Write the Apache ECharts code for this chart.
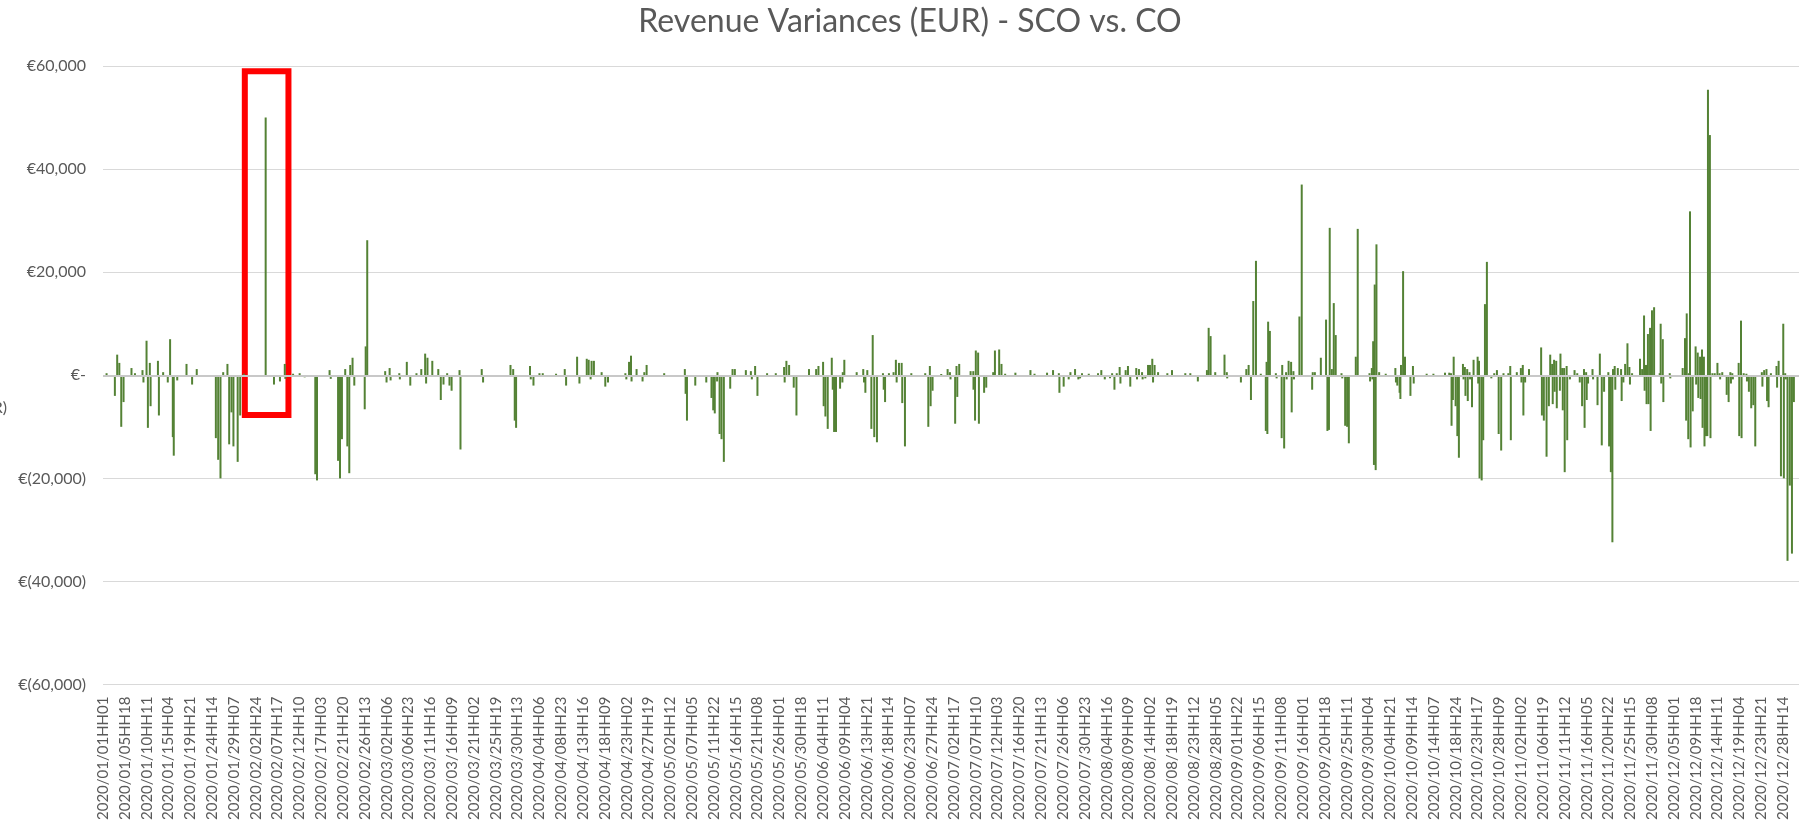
<!DOCTYPE html>
<html>
<head>
<meta charset="utf-8">
<title>Revenue Variances (EUR) - SCO vs. CO</title>
<script src="https://cdn.jsdelivr.net/npm/echarts@6/dist/echarts.min.js"></script>
<style>
    html, body { margin: 0; padding: 0; background: #fff; }
    #chartDiv { width: 1804px; height: 823px; }
</style>
</head>
<body>
<div id="chartDiv"></div>

<script>
    // hourly variances, [hour index from 2020/01/01HH01, EUR]
    var varQ1 = [[18,400],[61,-4000],[73,4000],[84,2400],[94,-10000],[106,-5200],[147,1400],[165,400],[204,1000],[209,-1400],
        [225,6700],[232,-10200],[242,2400],[246,-6000],[284,2800],[289,-7800],[311,600],[335,-1400],[347,7000],[361,-12000],
        [366,-15600],[384,-1000],[432,2200],[461,-1800],[485,1200],[584,-12200],[596,-16400],[608,-20000],[622,600],[644,2200],
        [653,-13400],[665,-7200],[675,-13800],[697,-16800],[710,-7800],[729,300],[842,50000],[885,-1800],[916,-1200],[941,2200],
        [944,-700],[984,300],[1018,400],[1044,-400],[1099,-19200],[1108,-20400],[1173,1000],[1179,-700],[1217,-16600],[1227,-20000],
        [1237,-12400],[1254,1200],[1265,-13800],[1275,-19000],[1280,2000],[1292,3400],[1301,-2000],[1355,-6600],[1360,5600],[1368,26200],
        [1461,800],[1468,-1400],[1484,1400],[1489,-1000],[1534,400],[1537,-800],[1573,2600],[1591,-2000],[1623,400],[1648,1200],
        [1668,4200],[1673,-1600],[1680,3400],[1705,2800],[1736,1200],[1749,-4800],[1763,-1800],[1782,400],[1794,-2000],[1805,-3000],
        [1846,1000],[1851,-14400],[1961,1200],[1968,-1400],[2110,2000],[2124,1200],[2132,-8800],[2139,-10200]];

    var varQ2 = [[2211,1800],[2215,-800],[2229,-2000],[2260,400],[2277,400],[2346,300],[2391,1200],[2398,-2000],[2455,3600],[2467,-1600],
        [2505,3200],[2515,3000],[2525,-800],[2530,2800],[2542,2800],[2582,600],[2601,-2200],[2615,-1400],[2705,400],[2710,-800],
        [2724,2600],[2734,3800],[2737,-1200],[2763,1200],[2794,-1200],[2803,600],[2815,2000],[2906,400],[3013,1200],[3017,-3600],
        [3024,-8800],[3067,-2000],[3124,-1400],[3151,-4400],[3160,-6800],[3168,-7400],[3180,-1200],[3182,600],[3193,-11400],[3203,-12400],
        [3215,-16800],[3248,-2600],[3260,1200],[3272,1200],[3329,1000],[3355,800],[3360,-800],[3377,1800],[3389,-4000],[3439,400],
        [3484,400],[3527,1600],[3530,-1400],[3539,2800],[3553,2000],[3577,-2400],[3591,-7800],[3656,1200],[3693,1200],[3705,1800],
        [3729,2600],[3732,-6000],[3741,-8000],[3753,-10400],[3774,3400],[3779,-2800],[3786,-11000],[3796,-11000],[3817,-2600],[3829,-1400],
        [3831,600],[3839,3000],[3903,600],[3937,1200],[3941,-1400],[3948,-3400],[3958,1000],[3979,-10400],[3986,7800],[3994,-12000],
        [4008,-13000],[4039,400],[4043,-2800],[4050,-5200],[4070,400],[4094,600],[4106,3000],[4110,-1400],[4122,2400],[4136,2400],
        [4139,-5400],[4153,-13800],[4186,400],[4258,400],[4274,-10000],[4282,1800],[4286,-6000],[4296,-3000],[4341,250]];

    var varQ3 = [[4374,1200],[4386,600],[4389,-800],[4413,-9400],[4420,1800],[4424,-4200],[4434,2200],[4493,800],[4507,800],[4508,-2800],
        [4516,-8800],[4520,4800],[4532,4400],[4536,-9400],[4563,-3400],[4574,-2400],[4610,600],[4619,4800],[4641,5000],[4653,2200],
        [4672,300],[4725,500],[4803,1000],[4824,300],[4889,500],[4920,1000],[4950,400],[4953,-3400],[4975,-2200],[5001,-800],
        [5010,600],[5034,1200],[5051,-800],[5060,-600],[5070,400],[5105,300],[5153,400],[5170,1000],[5188,-800],[5215,-600],
        [5226,400],[5238,-2800],[5250,400],[5265,1600],[5269,-1600],[5296,1000],[5308,1800],[5320,-2200],[5351,1400],[5355,-800],
        [5365,1200],[5381,600],[5384,-800],[5398,-600],[5412,2000],[5422,2000],[5434,3200],[5438,-1400],[5446,2000],[5464,600],
        [5512,400],[5536,1000],[5605,400],[5631,400],[5670,-1200],[5717,1000],[5726,9200],[5736,7600],[5760,600],[5808,4000],
        [5820,600],[5822,-600],[5893,-1400],[5921,1200],[5933,2000],[5945,-4800],[5957,14400],[5971,22200],[5996,300],[6022,-10800],
        [6026,2600],[6030,-11400],[6034,10400],[6043,8600],[6074,400],[6078,-600],[6104,-12200],[6107,2000],[6117,-14200],[6127,600],
        [6130,-800],[6140,2800],[6153,2600],[6156,-7200],[6165,800],[6168,-800],[6196,11400],[6208,37000],[6262,-2800],[6265,600],
        [6276,600],[6307,3400],[6334,10800],[6341,-10800],[6349,-10600],[6353,28600],[6364,1200],[6374,14000],[6384,7800],[6414,400],
        [6418,-600],[6433,-9800],[6443,-10000],[6452,-13200],[6488,3600],[6498,28400],[6559,400],[6562,-1200],[6571,1400],[6574,-800]];

    var varQ4 = [[6578,6600],[6582,-17400],[6586,17600],[6591,-18400],[6595,25400],[6609,600],[6643,300],[6693,1400],[6696,-1400],[6703,-2000],
        [6715,-3400],[6719,-4600],[6722,2000],[6733,20200],[6743,3600],[6771,-4000],[6784,1800],[6788,-1600],[6855,300],[6890,300],
        [6950,500],[6972,500],[6981,400],[6984,-9800],[6991,-4800],[6995,3600],[7005,-6000],[7014,-11800],[7022,-16000],[7043,2200],
        [7046,-800],[7053,1600],[7056,-4000],[7065,1200],[7068,-5000],[7077,600],[7080,-800],[7090,-6200],[7098,3000],[7119,3600],
        [7122,-1600],[7126,2800],[7129,-20000],[7140,-20400],[7148,-12600],[7157,13800],[7167,22000],[7190,-600],[7205,400],[7219,1000],
        [7228,-11400],[7241,-14600],[7253,400],[7278,400],[7288,1800],[7291,-12600],[7322,600],[7343,1400],[7346,-1400],[7353,2000],
        [7356,-7800],[7365,-1400],[7385,1200],[7448,5400],[7452,-7800],[7462,-8800],[7476,-15800],[7488,-6000],[7495,4000],[7505,2200],
        [7508,-5600],[7515,3000],[7518,-3200],[7526,2800],[7529,-6400],[7545,-3000],[7548,4200],[7557,1400],[7560,-6800],[7567,1400],
        [7570,-18800],[7580,1800],[7583,-12600],[7597,-800],[7621,1000],[7635,400],[7648,-1400],[7660,-6000],[7670,1200],[7673,-10200],
        [7681,600],[7684,-4800],[7691,-1600],[7714,1200],[7717,-800],[7740,-5800],[7752,4200],[7762,-13600],[7774,-3200],[7796,600],
        [7800,-13800],[7809,-18800],[7817,-32400],[7820,1200],[7829,1800],[7832,-2800],[7845,1400],[7862,1200],[7865,-5000],[7874,-1400],
        [7883,2200],[7895,6200],[7905,1600],[7908,-1800],[7919,400],[7960,3200],[7971,1200],[7981,11600],[7984,-3000],[7991,2000],
        [7994,-5600],[8001,8000],[8004,-5600],[8012,9200],[8015,-10800],[8022,12600],[8033,13200],[8062,400],[8067,10000],[8070,-1600],
        [8078,7000],[8081,-5200],[8114,400],[8117,-600],[8181,1400],[8193,7200],[8199,-8800],[8202,12000],[8210,-12400],[8212,400],
        [8219,31800],[8222,-14000],[8233,-7000],[8248,5600],[8251,-1800],[8259,4400],[8262,-4400],[8271,3600],[8274,-4600],[8281,5000],
        [8284,-10200],[8291,3600],[8294,-13800],[8302,-11800],[8309,-11800],[8312,55400],[8322,46600],[8325,-12200],[8335,400],[8347,400],
        [8361,2400],[8372,400],[8375,-800],[8386,600],[8409,-3800],[8419,-5200],[8428,600],[8431,-1600],[8438,400],[8441,-800],
        [8471,2400],[8474,-11800],[8483,10600],[8486,-12200],[8497,400],[8511,300],[8514,-1200],[8524,-3200],[8536,-6400],[8547,-5800],
        [8557,-13800],[8591,600],[8594,-2200],[8603,1000],[8615,1200],[8618,-5000],[8626,-6200],[8638,400],[8667,1800],[8670,-2400],
        [8678,2800],[8690,-19600],[8702,10000],[8705,-20000],[8712,400],[8715,-800],[8724,-36000],[8736,-21400],[8747,-34600],[8757,-5200]];

    // highlighted box (hour index range, EUR range)
    var boxHours = [761, 993];
    var boxEur = [59000, -7700];

    // hourly category labels, 2020/01/01HH01 ... 2020/12/31HH24 (local time: 23h day in March, 25h day in October)
    var shortDay = '2020/03/29', longDay = '2020/10/25';
    function pad(n) { return (n < 10 ? '0' : '') + n; }
    var categories = [];
    var day0 = Date.UTC(2020, 0, 1);
    for (var d = 0; d < 366; d++) {
        var dt = new Date(day0 + d * 86400000);
        var ymd = dt.getUTCFullYear() + '/' + pad(dt.getUTCMonth() + 1) + '/' + pad(dt.getUTCDate());
        var last = ymd === longDay ? 25 : 24;
        for (var h = 1; h <= last; h++) {
            if (ymd === shortDay && h === 3) continue;
            categories.push(ymd + 'HH' + pad(h));
        }
    }

    function eur(v) {
        if (v === 0) return '€-';
        var s = Math.abs(v).toLocaleString('en-US');
        return v < 0 ? '€(' + s + ')' : '€' + s;
    }

    var chart = echarts.init(document.getElementById('chartDiv'));
    var font = 'Lato, "Open Sans", sans-serif';

    chart.setOption({
        animation: false,
        title: {
            text: 'Revenue Variances (EUR) - SCO vs. CO',
            left: 910,
            textAlign: 'center',
            top: 6,
            padding: 0,
            textStyle: {fontFamily: font, fontSize: 32, fontWeight: 'normal', color: '#595959'}
        },
        grid: {left: 103, right: 5, top: 66, bottom: 135},
        graphic: [{
            type: 'text',
            right: 1797,
            top: 400,
            style: {text: 'Variance (EUR)', fontFamily: font, fontSize: 16, fill: '#595959'}
        }],
        xAxis: {
            type: 'category',
            data: categories,
            axisLine: {show: false, onZero: false},
            axisTick: {show: false},
            splitLine: {show: false},
            axisLabel: {
                interval: 112,
                rotate: 90,
                margin: 12,
                fontFamily: font,
                fontSize: 15,
                color: '#595959'
            }
        },
        yAxis: {
            type: 'value',
            min: -60000,
            max: 60000,
            interval: 20000,
            axisLine: {show: false},
            axisTick: {show: false},
            splitLine: {lineStyle: {color: '#d9d9d9', width: 1}},
            axisLabel: {
                margin: 17,
                fontFamily: font,
                fontSize: 16,
                color: '#595959',
                formatter: eur
            }
        },
        series: [{
            type: 'bar',
            data: varQ1.concat(varQ2, varQ3, varQ4),
            barWidth: 2,
            itemStyle: {color: '#548235'},
            markLine: {
                silent: true,
                symbol: 'none',
                label: {show: false},
                lineStyle: {color: '#c8c8c8', width: 2, type: 'solid'},
                data: [{yAxis: 0}]
            },
            markArea: {
                silent: true,
                itemStyle: {color: 'rgba(0,0,0,0)', borderColor: '#ff0000', borderWidth: 6},
                data: [[
                    {coord: [categories[boxHours[0]], boxEur[0]]},
                    {coord: [categories[boxHours[1]], boxEur[1]]}
                ]]
            }
        }]
    });
</script>
</body>
</html>
